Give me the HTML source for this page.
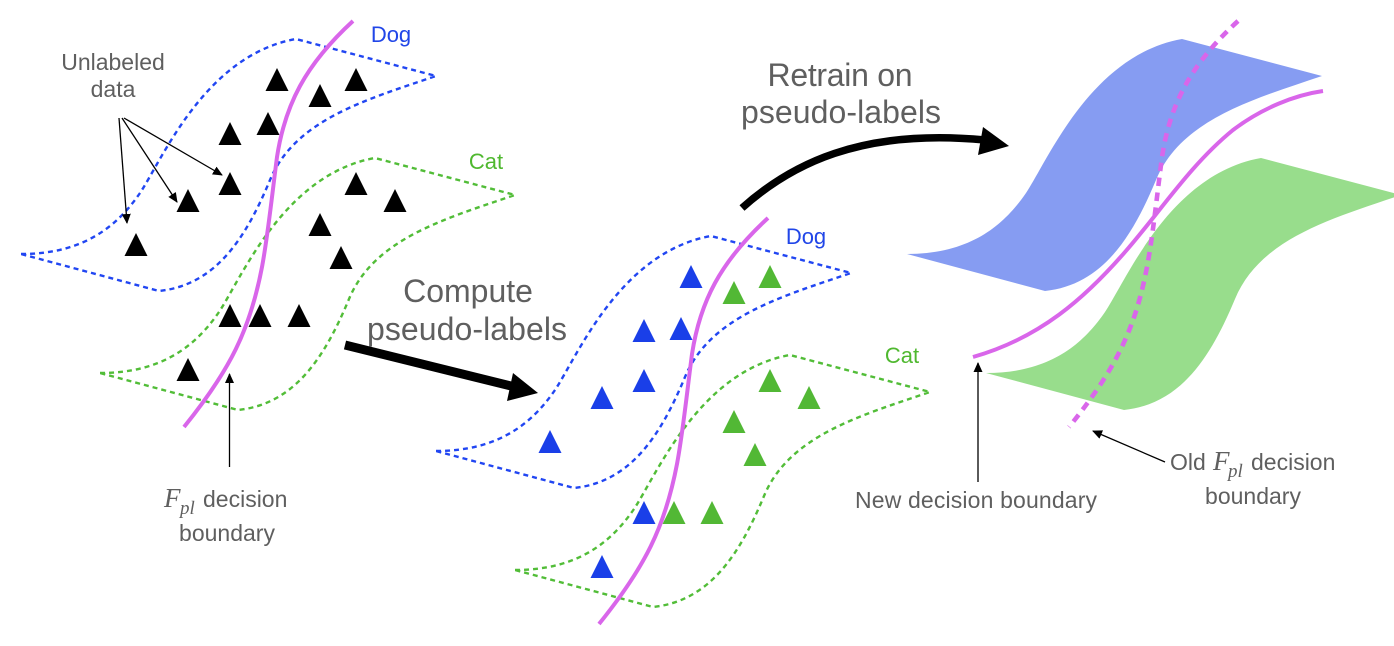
<!DOCTYPE html>
<html><head><meta charset="utf-8"><style>
html,body{margin:0;padding:0;background:#fff;width:1394px;height:646px;overflow:hidden}
svg{display:block}
text{font-family:"Liberation Sans",sans-serif;fill:#5f5f5f}
.m{font-family:"Liberation Serif",serif;font-style:italic}
</style></head><body>
<svg width="1394" height="646" viewBox="0 0 1394 646" xmlns="http://www.w3.org/2000/svg">
<defs>
<path id="reg" d="M21,254 C85,254 118,225 140,193 C162,160 205,55 296,39 L436,76 C365,100 295,120 270,180 C245,240 215,285 159,291 Z"/>
<path id="bd" d="M353,21 C305,65 285,105 277,157 C272,195 268,235 262,267 C250,330 230,370 184,427"/>
<path id="t" d="M0,-23 L-11.5,0 L11.5,0 Z"/>
<marker id="ah" viewBox="0 0 10 10" refX="9" refY="5" markerWidth="10" markerHeight="10" markerUnits="userSpaceOnUse" orient="auto"><path d="M0,0.5 L10,5 L0,9.5 Z" fill="#000"/></marker>
</defs>

<!-- Filled regions -->
<use href="#reg" x="886" y="0" fill="#869cf2"/>
<use href="#reg" x="965" y="119" fill="#98dd8c"/>

<!-- Dashed regions -->
<g fill="none" stroke-width="2.4" stroke-dasharray="5 4">
<use href="#reg" stroke="#2146f2"/>
<use href="#reg" x="79" y="119" stroke="#52bd38"/>
<use href="#reg" x="415" y="197" stroke="#2146f2"/>
<use href="#reg" x="494" y="316" stroke="#52bd38"/>
</g>

<g fill="#000">
<use href="#t" x="277" y="91"/><use href="#t" x="320" y="107"/><use href="#t" x="356" y="91"/>
<use href="#t" x="268" y="135"/><use href="#t" x="230" y="145"/><use href="#t" x="230" y="195"/>
<use href="#t" x="188" y="212"/><use href="#t" x="356" y="195"/><use href="#t" x="395" y="212"/>
<use href="#t" x="320" y="236"/><use href="#t" x="341" y="269"/><use href="#t" x="136" y="256"/>
<use href="#t" x="230" y="327"/><use href="#t" x="260" y="327"/><use href="#t" x="299" y="327"/>
<use href="#t" x="188" y="381"/>
</g>
<g fill="#1a3fe8">
<use href="#t" x="691" y="288"/><use href="#t" x="681" y="340"/><use href="#t" x="644" y="342"/>
<use href="#t" x="644" y="392"/><use href="#t" x="602" y="409"/><use href="#t" x="550" y="453"/>
<use href="#t" x="644" y="524"/><use href="#t" x="602" y="578"/>
</g>
<g fill="#52b835">
<use href="#t" x="734" y="304"/><use href="#t" x="770" y="288"/><use href="#t" x="770" y="392"/>
<use href="#t" x="809" y="409"/><use href="#t" x="734" y="433"/><use href="#t" x="755" y="466"/>
<use href="#t" x="674" y="524"/><use href="#t" x="712" y="524"/>
</g>

<g fill="none" stroke="#d966ea" stroke-width="4">
<use href="#bd"/>
<use href="#bd" x="415" y="197"/>
<path d="M973,357 C1040,338 1085,298 1125,252 C1160,212 1190,165 1233,130 C1262,108 1295,95 1323,91"/>
<use href="#bd" x="885" y="0" stroke-width="4.6" stroke-dasharray="8.5 6.5"/>
</g>

<!-- Thin arrows -->
<g stroke="#000" stroke-width="1.3" fill="none" marker-end="url(#ah)">
<path d="M119,118 L127,223"/>
<path d="M122,118 L177,202"/>
<path d="M124,118 L222,175"/>
<path d="M229.5,467 L229.5,374"/>
<path d="M978,482 L978,363"/>
<path d="M1165,462 L1093,431"/>
</g>

<!-- Thick arrows -->
<path d="M345,345 L515,387" stroke="#000" stroke-width="9" fill="none"/>
<path d="M538,393 L513,373 L507,401 Z" fill="#000"/>
<path d="M742,208 C790,165 860,128 985,140" stroke="#000" stroke-width="7.5" fill="none"/>
<path d="M1009,146 L983,127 L978,155 Z" fill="#000"/>

<!-- Text -->
<g font-size="23" text-anchor="middle">
<text x="113" y="70">Unlabeled</text>
<text x="113" y="97">data</text>
<text x="391" y="42" font-size="22" style="fill:#2146e8">Dog</text>
<text x="486" y="169" font-size="22" style="fill:#4fb82f">Cat</text>
<text x="806" y="244" font-size="22" style="fill:#2146e8">Dog</text>
<text x="902" y="363" font-size="22" style="fill:#4fb82f">Cat</text>
<text x="227" y="541">boundary</text>
<text x="976" y="508" textLength="242">New decision boundary</text>
<text x="1253" y="504">boundary</text>
</g>
<g font-size="23">
<text x="203" y="507">decision</text>
<text x="1170" y="470">Old</text>
<text x="1251" y="470">decision</text>
</g>
<g class="m" font-size="27">
<text class="m" x="164" y="507">F</text>
<text class="m" x="1213" y="470">F</text>
</g>
<g font-size="19">
<text class="m" x="180" y="514">pl</text>
<text class="m" x="1228" y="477">pl</text>
</g>
<g font-size="32" text-anchor="middle">
<text x="468" y="302">Compute</text>
<text x="467" y="340" textLength="200">pseudo-labels</text>
<text x="840" y="86" textLength="145">Retrain on</text>
<text x="841" y="123" textLength="200">pseudo-labels</text>
</g>
</svg>
</body></html>
